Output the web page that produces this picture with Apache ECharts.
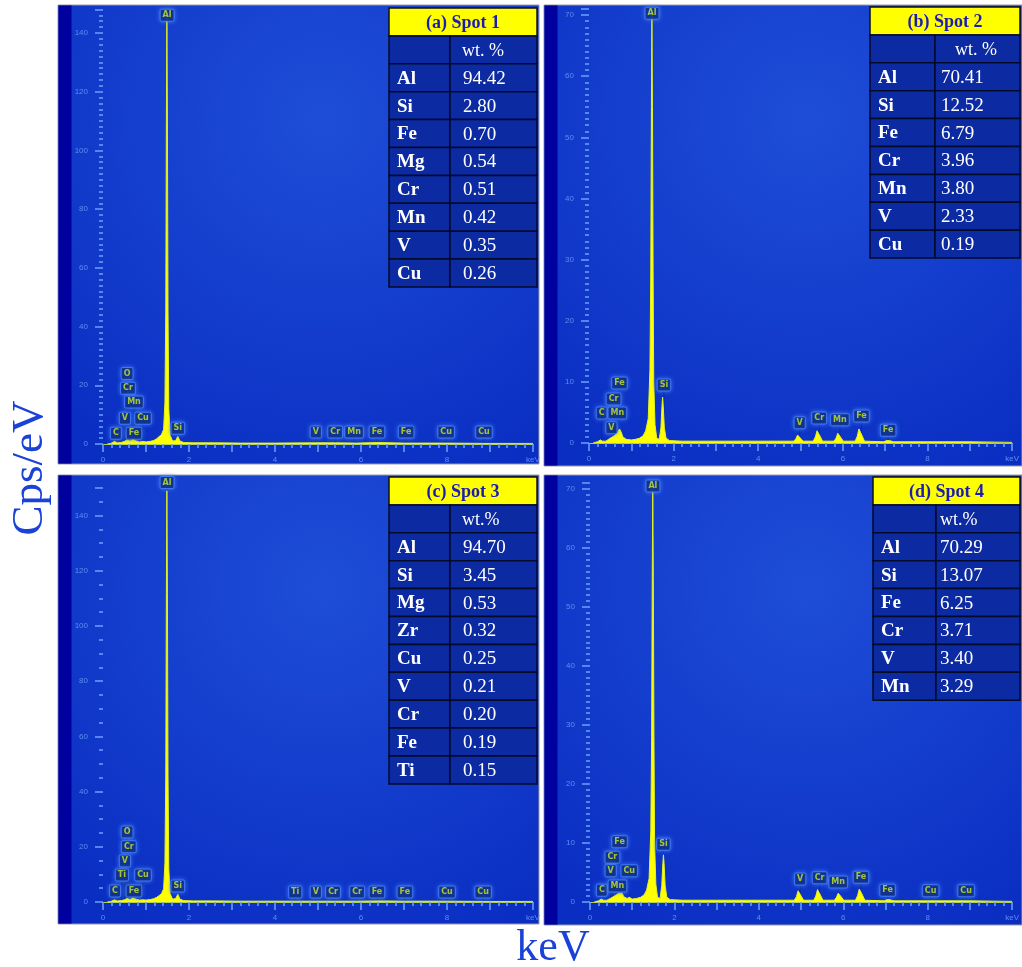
<!DOCTYPE html>
<html>
<head>
<meta charset="utf-8">
<title>EDS spectra</title>
<script src="https://cdn.jsdelivr.net/npm/echarts@6/dist/echarts.min.js"></script>
<style>
  html, body { margin: 0; padding: 0; background: #fff; }
  #chart { width: 1022px; height: 967px; }
</style>
</head>
<body>
<div id="chart"></div>
<script>
// spectra: [keV, counts]
const specA = [[0.10,0],[0.18,0.2],[0.27,0.9],[0.33,0.4],[0.42,0.5],[0.50,0.9],[0.56,1.4],[0.63,1.0],[0.70,1.6],[0.76,1.1],[0.85,0.7],[0.93,0.9],[1.00,0.7],[1.10,0.9],[1.18,1.2],[1.25,1.8],[1.31,2.6],[1.36,3.2],[1.41,5.0],[1.44,14],[1.46,45],[1.474,110],[1.486,145],[1.498,110],[1.512,45],[1.53,12],[1.56,3],[1.62,1.0],[1.69,1.2],[1.74,2.6],[1.79,1.0],[1.88,0.5],[2.10,0.4],[2.60,0.4],[3.20,0.3],[4.00,0.3],[4.95,0.4],[5.41,0.4],[5.90,0.3],[6.40,0.5],[7.00,0.3],[8.00,0.3],[9.00,0.2],[10.0,0.2]];
const specB = [[0.10,0],[0.20,0.2],[0.27,0.5],[0.32,0.3],[0.40,0.3],[0.48,0.7],[0.55,1.0],[0.62,1.3],[0.68,1.8],[0.72,2.3],[0.76,1.8],[0.80,1.0],[0.88,0.6],[1.00,0.5],[1.10,0.6],[1.20,0.8],[1.28,1.2],[1.34,2.0],[1.40,4],[1.44,12],[1.46,28],[1.475,55],[1.487,70],[1.50,55],[1.515,28],[1.53,10],[1.56,3],[1.60,0.8],[1.66,0.6],[1.70,2.5],[1.725,6],[1.74,7.5],[1.755,6],[1.78,2.5],[1.82,0.8],[1.90,0.4],[2.20,0.3],[3.00,0.3],[4.00,0.3],[4.84,0.3],[4.89,0.7],[4.93,1.3],[4.95,1.5],[4.97,1.3],[5.01,0.7],[5.06,0.3],[5.30,0.3],[5.35,1.0],[5.39,2.0],[5.41,2.3],[5.43,2.0],[5.47,1.0],[5.52,0.3],[5.79,0.3],[5.84,0.8],[5.88,1.6],[5.90,1.8],[5.92,1.6],[5.96,0.8],[6.01,0.3],[6.29,0.3],[6.34,1.1],[6.38,2.3],[6.40,2.6],[6.42,2.3],[6.46,1.1],[6.51,0.3],[6.97,0.2],[7.03,0.4],[7.06,0.5],[7.10,0.4],[7.20,0.2],[8.00,0.2],[9.00,0.2],[10.0,0.1]];
const specC = [[0.10,0],[0.18,0.2],[0.27,0.8],[0.33,0.4],[0.42,0.5],[0.50,0.8],[0.56,1.3],[0.63,0.9],[0.70,1.5],[0.77,1.0],[0.85,0.7],[0.93,0.8],[1.00,0.7],[1.10,0.9],[1.18,1.2],[1.25,1.7],[1.31,2.4],[1.36,3.0],[1.41,4.8],[1.44,14],[1.46,46],[1.474,112],[1.486,149],[1.498,112],[1.512,46],[1.53,12],[1.56,3],[1.62,1.0],[1.69,1.3],[1.74,2.8],[1.79,1.0],[1.88,0.5],[2.10,0.4],[2.60,0.4],[3.20,0.3],[4.00,0.3],[4.51,0.3],[4.95,0.3],[5.41,0.3],[5.90,0.3],[6.40,0.4],[7.00,0.3],[8.00,0.3],[9.00,0.2],[10.0,0.2]];
const specD = [[0.10,0],[0.20,0.2],[0.27,0.5],[0.32,0.3],[0.40,0.3],[0.48,0.6],[0.55,0.9],[0.62,1.2],[0.68,1.5],[0.72,1.8],[0.76,1.5],[0.80,0.9],[0.88,0.6],[0.93,0.8],[1.00,0.5],[1.10,0.6],[1.20,0.8],[1.28,1.2],[1.34,2.0],[1.40,4],[1.44,12],[1.46,28],[1.475,55],[1.487,70],[1.50,55],[1.515,28],[1.53,10],[1.56,3],[1.60,0.8],[1.66,0.6],[1.70,2.8],[1.725,6.5],[1.74,8.0],[1.755,6.5],[1.78,2.8],[1.82,0.8],[1.90,0.4],[2.20,0.3],[3.00,0.3],[4.00,0.3],[4.84,0.3],[4.89,0.9],[4.93,1.9],[4.95,2.2],[4.97,1.9],[5.01,0.9],[5.06,0.3],[5.30,0.3],[5.35,1.0],[5.39,2.1],[5.41,2.4],[5.43,2.1],[5.47,1.0],[5.52,0.3],[5.79,0.3],[5.84,0.8],[5.88,1.5],[5.90,1.7],[5.92,1.5],[5.96,0.8],[6.01,0.3],[6.29,0.3],[6.34,1.1],[6.38,2.2],[6.40,2.5],[6.42,2.2],[6.46,1.1],[6.51,0.3],[6.97,0.2],[7.03,0.4],[7.06,0.5],[7.10,0.4],[7.20,0.2],[8.00,0.2],[9.00,0.2],[10.0,0.1]];

// peak markers: [element, keV, height of marker centre]
const marksA = [['Al',1.49,146],['O',0.56,24],['Cr',0.58,19],['Mn',0.72,14.3],['V',0.51,8.8],['Cu',0.93,8.8],['C',0.30,3.7],['Fe',0.72,3.7],['Si',1.74,5.4],['V',4.95,4.1],['Cr',5.40,4.1],['Mn',5.84,4.1],['Fe',6.37,4.1],['Fe',7.05,4.1],['Cu',7.98,4.1],['Cu',8.86,4.1]];
const marksB = [['Al',1.49,70.3],['Si',1.77,9.5],['Fe',0.72,9.8],['Cr',0.58,7.2],['C',0.30,4.9],['Mn',0.67,4.9],['V',0.53,2.5],['V',4.98,3.3],['Cr',5.44,4.1],['Mn',5.93,3.8],['Fe',6.44,4.4],['Fe',7.07,2.1]];
const marksC = [['Al',1.49,152],['O',0.56,25.4],['Cr',0.60,20],['V',0.51,14.9],['Ti',0.44,9.8],['Cu',0.93,9.8],['C',0.28,4],['Fe',0.72,4],['Si',1.74,5.8],['Ti',4.47,3.6],['V',4.95,3.6],['Cr',5.35,3.6],['Cr',5.91,3.6],['Fe',6.37,3.6],['Fe',7.02,3.6],['Cu',8.00,3.6],['Cu',8.84,3.6]];
const marksD = [['Al',1.49,70.5],['Fe',0.70,10.2],['Cr',0.53,7.6],['V',0.49,5.3],['Cu',0.93,5.3],['C',0.28,2.0],['Mn',0.65,2.7],['Si',1.74,9.8],['V',4.98,3.9],['Cr',5.44,4.1],['Mn',5.88,3.4],['Fe',6.42,4.2],['Fe',7.05,2.0],['Cu',8.07,1.9],['Cu',8.91,1.9]];

// composition tables
const spotTitles = ['(a) Spot 1', '(b) Spot 2', '(c) Spot 3', '(d) Spot 4'];
const wtHeaders = ['wt. %', 'wt. %', 'wt.%', 'wt.%'];
const elemA = ['Al','Si','Fe','Mg','Cr','Mn','V','Cu'];
const wtA = ['94.42','2.80','0.70','0.54','0.51','0.42','0.35','0.26'];
const elemB = ['Al','Si','Fe','Cr','Mn','V','Cu'];
const wtB = ['70.41','12.52','6.79','3.96','3.80','2.33','0.19'];
const elemC = ['Al','Si','Mg','Zr','Cu','V','Cr','Fe','Ti'];
const wtC = ['94.70','3.45','0.53','0.32','0.25','0.21','0.20','0.19','0.15'];
const elemD = ['Al','Si','Fe','Cr','V','Mn'];
const wtD = ['70.29','13.07','6.25','3.71','3.40','3.29'];

// axis ranges
const yMax = [148, 71, 150, 71];
const yStep = [20, 10, 20, 10];
const yMinorSplit = [10, 10, 4, 10];

const chart = echarts.init(document.getElementById('chart'));

const panels = [
  {x: 58, y: 5, w: 481, h: 459},
  {x: 544, y: 5, w: 478, h: 461},
  {x: 58, y: 475, w: 481, h: 449},
  {x: 544, y: 475, w: 478, h: 450}
];
const grids = [
  {left: 103, top: 9.5, width: 430, height: 434.5},
  {left: 589, top: 9, width: 430, height: 434},
  {left: 103, top: 488, width: 430, height: 414},
  {left: 590, top: 483, width: 430, height: 419}
];
const tables = [
  {left: 389, top: 8, w1: 61, w2: 87, headPad: 12, valPad: 13},
  {left: 870, top: 7, w1: 65, w2: 85, headPad: 20, valPad: 6},
  {left: 389, top: 477, w1: 61, w2: 87, headPad: 12, valPad: 13},
  {left: 873, top: 477, w1: 63, w2: 84, headPad: 4, valPad: 4}
];
const elems = [elemA, elemB, elemC, elemD];
const wts = [wtA, wtB, wtC, wtD];
const specs = [specA, specB, specC, specD];
const marks = [marksA, marksB, marksC, marksD];

const tickColor = '#6aa2ff';
const serif = '"Liberation Serif", "Times New Roman", serif';

let graphic = [];
panels.forEach(function (p) {
  graphic.push({
    type: 'rect', z: -100,
    shape: {x: p.x, y: p.y, width: p.w, height: p.h},
    style: {
      fill: new echarts.graphic.RadialGradient(0.55, 0.25, 0.85, [
        {offset: 0, color: '#1e4ed8'},
        {offset: 1, color: '#0a2ec2'}
      ]),
      stroke: '#9a9aa8', lineWidth: 1
    }
  });
  graphic.push({
    type: 'rect', z: -99,
    shape: {x: p.x + 0.5, y: p.y + 0.5, width: 13, height: p.h - 1},
    style: {fill: '#00009e'}
  });
});

tables.forEach(function (t, i) {
  const rowH = 27.9;
  const W = t.w1 + t.w2;
  graphic.push({
    type: 'rect', z: 100,
    shape: {x: t.left, y: t.top, width: W, height: rowH},
    style: {fill: '#ffff00', stroke: '#101010', lineWidth: 1.5}
  });
  graphic.push({
    type: 'text', z: 101, x: t.left + W / 2, y: t.top + rowH / 2 + 1,
    style: {text: spotTitles[i], font: 'bold 18px ' + serif, fill: '#1c1cb4', align: 'center', verticalAlign: 'middle'}
  });
  const names = [''].concat(elems[i]);
  const vals = [wtHeaders[i]].concat(wts[i]);
  names.forEach(function (nm, r) {
    const y = t.top + rowH * (r + 1);
    graphic.push({
      type: 'rect', z: 100,
      shape: {x: t.left, y: y, width: t.w1, height: rowH},
      style: {fill: '#0c2aa2', stroke: '#020a2a', lineWidth: 1.5}
    });
    graphic.push({
      type: 'rect', z: 100,
      shape: {x: t.left + t.w1, y: y, width: t.w2, height: rowH},
      style: {fill: '#0c2aa2', stroke: '#020a2a', lineWidth: 1.5}
    });
    if (nm) {
      graphic.push({
        type: 'text', z: 101, x: t.left + 8, y: y + rowH / 2 + 1,
        style: {text: nm, font: 'bold 19px ' + serif, fill: '#ffffff', align: 'left', verticalAlign: 'middle'}
      });
    }
    graphic.push({
      type: 'text', z: 101, x: t.left + t.w1 + (r === 0 ? t.headPad : t.valPad), y: y + rowH / 2 + 1,
      style: {text: vals[r], font: (r === 0 ? '18px ' : '19px ') + serif, fill: '#ffffff', align: 'left', verticalAlign: 'middle'}
    });
  });
});

graphic.push({
  type: 'text', x: 30, y: 468, rotation: Math.PI / 2,
  style: {text: 'Cps/eV', font: '45px ' + serif, fill: '#1b42d8', align: 'center', verticalAlign: 'middle'}
});
graphic.push({
  type: 'text', x: 553, y: 948,
  style: {text: 'keV', font: '44px ' + serif, fill: '#1b42d8', align: 'center', verticalAlign: 'middle'}
});

const xAxes = grids.map(function (g, i) {
  return {
    type: 'value', gridIndex: i, min: 0, max: 10, interval: 1,
    axisLine: {show: true, onZero: true, lineStyle: {color: '#b9d24a', width: 1}},
    axisTick: {show: true, length: 8, lineStyle: {color: tickColor, width: 1.5}},
    minorTick: {show: true, splitNumber: 5, length: 4, lineStyle: {color: tickColor, width: 1.5}},
    splitLine: {show: false},
    axisLabel: {
      fontSize: 8, color: '#5a8ef2', margin: 12, showMaxLabel: true,
      formatter: function (v) { return v === 10 ? 'keV' : (v % 2 === 0 ? String(v) : ''); }
    }
  };
});

const yAxes = grids.map(function (g, i) {
  return {
    type: 'value', gridIndex: i, min: 0, max: yMax[i], interval: yStep[i], offset: 5,
    axisLine: {show: false},
    axisTick: {show: true, length: 8, lineStyle: {color: tickColor, width: 1.5}},
    minorTick: {show: true, splitNumber: yMinorSplit[i], length: 4, lineStyle: {color: tickColor, width: 1.5}},
    splitLine: {show: false},
    axisLabel: {fontSize: 8, color: '#5a8ef2', margin: 10, showMaxLabel: false}
  };
});

let series = [];
specs.forEach(function (s, i) {
  series.push({
    type: 'custom', xAxisIndex: i, yAxisIndex: i, z: 2, clip: false,
    data: marks[i].map(function (m) { return [m[1], m[2]]; }),
    renderItem: function (params, api) {
      const top = api.coord([api.value(0), api.value(1)]);
      const base = api.coord([api.value(0), 0]);
      return {
        type: 'line',
        shape: {x1: top[0], y1: top[1] + 6, x2: base[0], y2: base[1]},
        style: {stroke: '#0d2c8e', lineWidth: 1}
      };
    }
  });
  series.push({
    type: 'line', xAxisIndex: i, yAxisIndex: i, z: 3,
    data: s, showSymbol: false, symbol: 'none',
    lineStyle: {color: '#e4f31c', width: 1},
    areaStyle: {color: '#ffff00', opacity: 1}
  });
  series.push({
    type: 'scatter', xAxisIndex: i, yAxisIndex: i, z: 5, clip: false,
    symbolSize: 0,
    data: marks[i].map(function (m) { return [m[1], m[2], m[0]]; }),
    label: {
      show: true, position: 'inside',
      formatter: function (p) { return p.data[2]; },
      fontSize: 8, fontWeight: 'bold', fontFamily: 'DejaVu Sans, sans-serif',
      color: '#c4e82c',
      backgroundColor: '#0a2575', borderColor: '#3c7bff', borderWidth: 1,
      padding: [2, 2, 1, 2], borderRadius: 1,
      shadowColor: 'rgba(80,140,255,0.8)', shadowBlur: 4
    }
  });
});

chart.setOption({
  animation: false,
  backgroundColor: '#ffffff',
  graphic: graphic,
  grid: grids,
  xAxis: xAxes,
  yAxis: yAxes,
  series: series
});
</script>
</body>
</html>
